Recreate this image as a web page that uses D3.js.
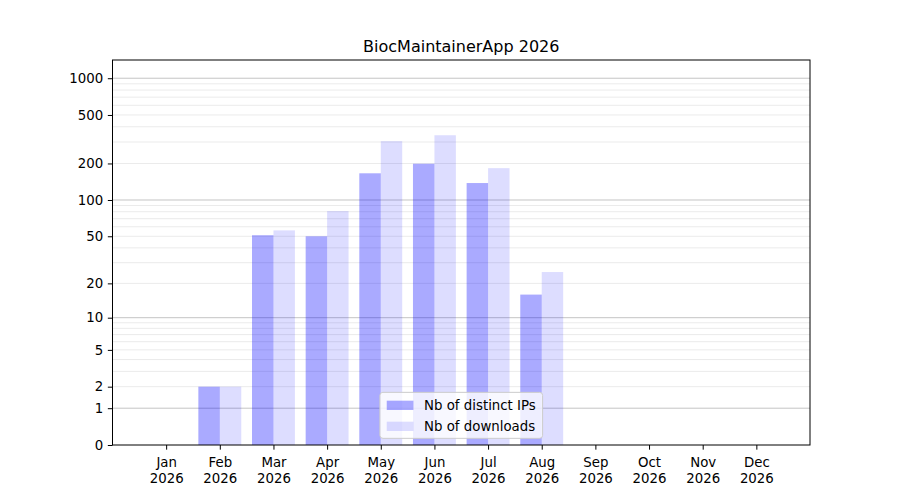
<!DOCTYPE html>
<html>
<head>
<meta charset="utf-8">
<script src="https://cdn.jsdelivr.net/npm/d3@7"></script>
<style>
  body { margin: 0; background: #fff; }
  svg, svg text { font-family: "DejaVu Sans", sans-serif; }
</style>
</head>
<body>
<div id="chart"></div>
<script>
const title = 'BiocMaintainerApp 2026';
const months = ['Jan', 'Feb', 'Mar', 'Apr', 'May', 'Jun', 'Jul', 'Aug', 'Sep', 'Oct', 'Nov', 'Dec'];
const year = '2026';
const distinctIPs = [0, 2, 51, 50, 166, 199, 138, 16, 0, 0, 0, 0];
const downloads = [0, 2, 56, 81, 305, 341, 183, 25, 0, 0, 0, 0];
const seriesNames = ['Nb of distinct IPs', 'Nb of downloads'];
const yTicks = [0, 1, 2, 5, 10, 20, 50, 100, 200, 500, 1000];
const majorGrid = [1, 10, 100, 1000];
const minorGrid = [2, 3, 4, 5, 6, 7, 8, 9, 20, 30, 40, 50, 60, 70, 80, 90, 200, 300, 400, 500, 600, 700, 800, 900];
const yMax = 1410;

const W = 900, H = 500;
const margin = {top: 60, right: 90, bottom: 55, left: 112.5};
const fs = 13.33;

const svg = d3.select('#chart').append('svg')
    .attr('width', W)
    .attr('height', H);

const x = d3.scaleLinear()
    .domain([0, months.length + 1])
    .range([margin.left, W - margin.right]);

const y = d3.scaleSymlog()
    .constant(1)
    .domain([0, yMax])
    .range([H - margin.bottom, margin.top]);

const barW = x(0.4) - x(0);

// grid
svg.append('g')
    .selectAll('line')
    .data(minorGrid)
    .join('line')
    .attr('x1', margin.left)
    .attr('x2', W - margin.right)
    .attr('y1', d => y(d))
    .attr('y2', d => y(d))
    .attr('stroke', '#ebebeb')
    .attr('stroke-width', 1);

svg.append('g')
    .selectAll('line')
    .data(majorGrid)
    .join('line')
    .attr('x1', margin.left)
    .attr('x2', W - margin.right)
    .attr('y1', d => y(d))
    .attr('y2', d => y(d))
    .attr('stroke', '#c4c4c4')
    .attr('stroke-width', 1);

// bars
const bars = svg.append('g');
bars.selectAll('rect.ips')
    .data(distinctIPs)
    .join('rect')
    .attr('class', 'ips')
    .attr('x', (d, i) => x(i + 1) - barW)
    .attr('y', d => y(d))
    .attr('width', barW)
    .attr('height', d => y(0) - y(d))
    .attr('fill', 'blue')
    .attr('fill-opacity', 1 / 3);

bars.selectAll('rect.dl')
    .data(downloads)
    .join('rect')
    .attr('class', 'dl')
    .attr('x', (d, i) => x(i + 1))
    .attr('y', d => y(d))
    .attr('width', barW)
    .attr('height', d => y(0) - y(d))
    .attr('fill', 'blue')
    .attr('fill-opacity', 0.133);

// axes
const xAxis = svg.append('g')
    .attr('transform', `translate(0,${H - margin.bottom})`)
    .call(d3.axisBottom(x)
        .tickValues(d3.range(1, months.length + 1))
        .tickSize(4.67)
        .tickPadding(4.67)
        .tickFormat(''));
xAxis.select('.domain').remove();
xAxis.selectAll('.tick').each(function(d) {
    const t = d3.select(this).append('text')
        .attr('fill', '#000')
        .attr('text-anchor', 'middle');
    t.append('tspan').attr('x', 0).attr('y', 22).text(months[d - 1]);
    t.append('tspan').attr('x', 0).attr('y', 38).text(year);
});

const yAxis = svg.append('g')
    .attr('transform', `translate(${margin.left},0)`)
    .call(d3.axisLeft(y)
        .tickValues(yTicks)
        .tickSize(4.67)
        .tickPadding(4.67)
        .tickFormat(d3.format('d')));
yAxis.select('.domain').remove();

svg.selectAll('g.tick text')
    .attr('fill', '#000')
    .style('font-family', '"DejaVu Sans", sans-serif')
    .style('font-size', fs + 'px');
svg.selectAll('.tick line').attr('stroke', '#000');

svg.append('rect')
    .attr('x', margin.left)
    .attr('y', margin.top)
    .attr('width', W - margin.right - margin.left)
    .attr('height', H - margin.bottom - margin.top)
    .attr('fill', 'none')
    .attr('stroke', '#000')
    .attr('stroke-width', 1);

svg.append('text')
    .attr('x', (margin.left + W - margin.right) / 2)
    .attr('y', margin.top - 8)
    .attr('text-anchor', 'middle')
    .style('font-size', '16px')
    .text(title);

// legend, lower center
const pad = fs * 0.4 + 1.5;
const legend = svg.append('g');
const box = legend.append('rect')
    .attr('fill', '#fff')
    .attr('fill-opacity', 0.8)
    .attr('stroke', '#cccccc')
    .attr('rx', 3);
const rowH = fs + fs * 0.5 + 1;
const legendH = 2 * fs * 0.4 + rowH * 2 - fs * 0.5;
const items = legend.selectAll('g.item')
    .data(seriesNames)
    .join('g')
    .attr('class', 'item')
    .attr('transform', (d, i) => `translate(${pad},${fs * 0.4 + i * rowH})`);
items.append('rect')
    .attr('x', 0)
    .attr('y', fs * 0.15 + 1)
    .attr('width', fs * 2)
    .attr('height', fs * 0.7)
    .attr('fill', 'blue')
    .attr('fill-opacity', (d, i) => i === 0 ? 1 / 3 : 0.133);
items.append('text')
    .attr('x', fs * 2.8)
    .attr('y', fs * 0.5 + 1)
    .attr('dy', '0.35em')
    .style('font-size', fs + 'px')
    .text(d => d);
let maxText = 0;
items.selectAll('text').each(function() {
    maxText = Math.max(maxText, this.getComputedTextLength());
});
const legendW = pad * 2 + fs * 2.8 + maxText;
box.attr('width', legendW).attr('height', legendH);
legend.attr('transform',
    `translate(${(margin.left + W - margin.right) / 2 - legendW / 2},${H - margin.bottom - fs * 0.5 - legendH})`);
</script>
</body>
</html>
